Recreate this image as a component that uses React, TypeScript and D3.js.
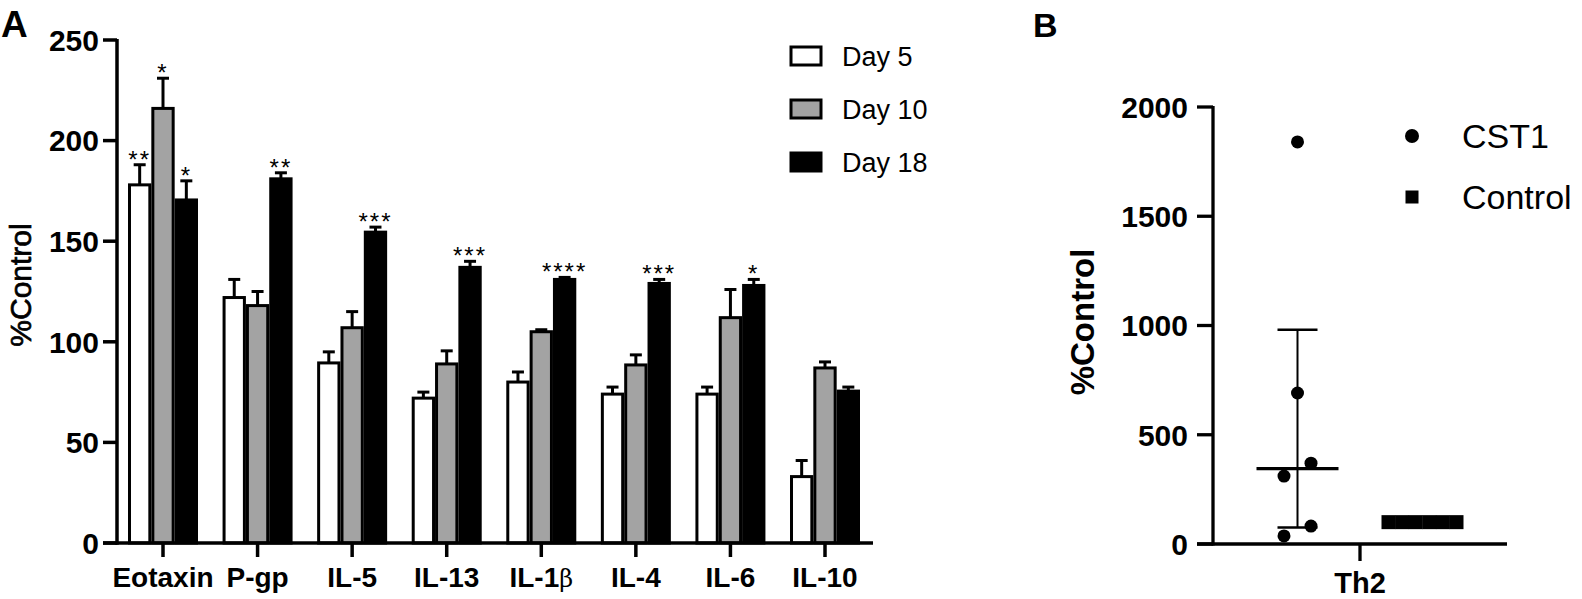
import React from "react";
import * as d3 from "d3";

// ---------- Panel A data ----------
const categories = ["Eotaxin", "P-gp", "IL-5", "IL-13", "IL-1β", "IL-4", "IL-6", "IL-10"];
const seriesNames = ["Day 5", "Day 10", "Day 18"];
const day5Mean = [178, 122, 89.5, 72, 80, 74, 74, 33];
const day5Err = [188, 131, 95, 75, 85, 77.5, 77.5, 41];
const day10Mean = [216, 118, 107, 89, 105, 88.5, 112, 87];
const day10Err = [231, 125, 115, 95.5, 106, 93.5, 126, 90];
const day18Mean = [170.5, 181, 154.5, 137, 131, 129, 128, 75.5];
const day18Err = [180, 184, 157, 140, 132, 131, 131, 77.5];
const day5Sig = ["**", "", "", "", "", "", "", ""];
const day10Sig = ["*", "", "", "", "", "", "", ""];
const day18Sig = ["*", "**", "***", "***", "****", "***", "*", ""];
const yTicksA = [0, 50, 100, 150, 200, 250];

// ---------- Panel B data ----------
const groupsB = ["CST1", "Control"];
const cst1Values = [1840, 691, 370, 311, 82, 37];
const cst1Slots = [0, 0, 1, -1, 1, -1];
const controlValues = [100, 100, 100, 100, 100, 100];
const controlSlots = [-2.5, -1.5, -0.5, 0.5, 1.5, 2.5];
const cst1Center = 345;
const cst1Upper = 980;
const cst1Lower = 75;
const yTicksB = [0, 500, 1000, 1500, 2000];
const xCategoryB = ["Th2"];

const FONT = "'Liberation Sans', Arial, sans-serif";
const fills = ["#ffffff", "#a3a3a3", "#000000"];

export default function App() {
  // Panel A scales
  const xA = d3.scalePoint<string>().domain(categories).range([163, 825]);
  const xSeries = d3.scaleBand<string>().domain(seriesNames).range([-35, 35]);
  const yA = d3.scaleLinear().domain([0, 250]).range([543, 40]);
  const means = [day5Mean, day10Mean, day18Mean];
  const errs = [day5Err, day10Err, day18Err];
  const sigs = [day5Sig, day10Sig, day18Sig];
  const bw = xSeries.bandwidth();

  // Panel B scales
  const yB = d3.scaleLinear().domain([0, 2000]).range([544, 107]);
  const xCatB = d3.scalePoint<string>().domain(xCategoryB).range([1360, 1360]);
  const xGroupB = d3.scaleBand<string>().domain(groupsB).range([1360 - 125, 1360 + 125]);
  const gc = (g: string) => (xGroupB(g) as number) + xGroupB.bandwidth() / 2;
  const cstX = gc("CST1");
  const ctlX = gc("Control");

  return (
    <div style={{ position: "absolute", left: 0, top: 0 }}>
      <svg width={1582} height={599} style={{ display: "block", background: "#fff" }} fontFamily={FONT}>
        {/* Panel label A */}
        <text x={1} y={37} fontSize={37} fontWeight="bold">A</text>

        {/* Bars */}
        {categories.map((c, i) =>
          seriesNames.map((s, k) => {
            const cx = (xA(c) as number) + (xSeries(s) as number) + bw / 2;
            const w = bw - 3;
            const top = yA(means[k][i]);
            const et = yA(errs[k][i]);
            return (
              <g key={c + s}>
                <line x1={cx} x2={cx} y1={top} y2={et} stroke="#000" strokeWidth={3} />
                <line x1={cx - 6} x2={cx + 6} y1={et} y2={et} stroke="#000" strokeWidth={3} />
                <rect x={cx - w / 2} y={top} width={w} height={yA(0) - top} fill={fills[k]} stroke="#000" strokeWidth={3} />
                {sigs[k][i] && (
                  <text x={cx} y={et + 3} textAnchor="middle" fontSize={24} letterSpacing={2}>
                    {sigs[k][i]}
                  </text>
                )}
              </g>
            );
          })
        )}

        {/* Axes A */}
        <line x1={117} x2={117} y1={yA(250) - 1} y2={yA(0) + 1.7} stroke="#000" strokeWidth={3.5} />
        <line x1={103} x2={873} y1={yA(0)} y2={yA(0)} stroke="#000" strokeWidth={3.5} />
        {yTicksA.map((t) => (
          <g key={t}>
            <line x1={103} x2={117} y1={yA(t)} y2={yA(t)} stroke="#000" strokeWidth={3.5} />
            <text x={99} y={yA(t)} dy="0.36em" textAnchor="end" fontSize={30} fontWeight="bold">{t}</text>
          </g>
        ))}
        {categories.map((c) => (
          <g key={c}>
            <line x1={xA(c)} x2={xA(c)} y1={yA(0)} y2={yA(0) + 14} stroke="#000" strokeWidth={3.5} />
            <text x={xA(c)} y={587} textAnchor="middle" fontSize={28} fontWeight="bold">
              {c.endsWith("β") ? (
                <>
                  {c.slice(0, -1)}
                  <tspan fontWeight="normal" fontFamily="'DejaVu Serif', serif" fontSize={24}>β</tspan>
                </>
              ) : (
                c
              )}
            </text>
          </g>
        ))}
        <text transform={`translate(31,${285}) rotate(-90)`} textAnchor="middle" fontSize={30} stroke="#000" strokeWidth={0.7}>%Control</text>

        {/* Legend A */}
        {seriesNames.map((s, k) => {
          const cy = 56 + k * 53;
          return (
            <g key={s}>
              <rect x={791} y={cy - 9} width={30} height={18} fill={fills[k]} stroke="#000" strokeWidth={3} />
              <text x={842} y={cy} dy="0.36em" fontSize={27}>{s}</text>
            </g>
          );
        })}

        {/* Panel label B */}
        <text x={1033} y={37} fontSize={34} fontWeight="bold">B</text>

        {/* Axes B */}
        <line x1={1213} x2={1213} y1={yB(2000) - 1} y2={yB(0) + 1.5} stroke="#000" strokeWidth={3.3} />
        <line x1={1197} x2={1507} y1={yB(0)} y2={yB(0)} stroke="#000" strokeWidth={3.3} />
        {yTicksB.map((t) => (
          <g key={t}>
            <line x1={1197} x2={1213} y1={yB(t)} y2={yB(t)} stroke="#000" strokeWidth={3.3} />
            <text x={1188} y={yB(t)} dy="0.36em" textAnchor="end" fontSize={30} fontWeight="bold">{t}</text>
          </g>
        ))}
        {xCategoryB.map((c) => (
          <g key={c}>
            <line x1={xCatB(c)} x2={xCatB(c)} y1={yB(0)} y2={yB(0) + 17} stroke="#000" strokeWidth={3.3} />
            <text x={xCatB(c)} y={593} textAnchor="middle" fontSize={29} fontWeight="bold">{c}</text>
          </g>
        ))}
        <text transform={`translate(1094,${322}) rotate(-90)`} textAnchor="middle" fontSize={33} fontWeight="bold">%Control</text>

        {/* CST1 error bar */}
        <line x1={cstX} x2={cstX} y1={yB(cst1Upper)} y2={yB(cst1Lower)} stroke="#000" strokeWidth={2} />
        <line x1={cstX - 20} x2={cstX + 20} y1={yB(cst1Upper)} y2={yB(cst1Upper)} stroke="#000" strokeWidth={2.5} />
        <line x1={cstX - 20} x2={cstX + 20} y1={yB(cst1Lower)} y2={yB(cst1Lower)} stroke="#000" strokeWidth={2.5} />
        <line x1={cstX - 41} x2={cstX + 41} y1={yB(cst1Center)} y2={yB(cst1Center)} stroke="#000" strokeWidth={3.3} />
        {cst1Values.map((v, i) => (
          <circle key={i} cx={cstX + cst1Slots[i] * 13.5} cy={yB(v)} r={6.5} fill="#000" />
        ))}
        {controlValues.map((v, i) => (
          <rect key={i} x={ctlX + controlSlots[i] * 13.6 - 7} y={yB(v) - 7} width={14} height={14} fill="#000" />
        ))}

        {/* Legend B */}
        <circle cx={1412} cy={136} r={7} fill="#000" />
        <text x={1462} y={136} dy="0.36em" fontSize={34}>CST1</text>
        <rect x={1405.5} y={190.5} width={13} height={13} fill="#000" />
        <text x={1462} y={197} dy="0.36em" fontSize={34}>Control</text>
      </svg>
    </div>
  );
}
